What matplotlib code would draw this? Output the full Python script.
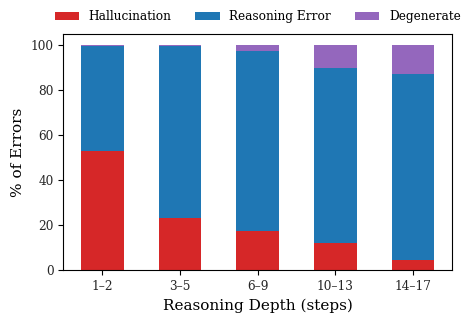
import numpy as np
import matplotlib.pyplot as plt

plt.rcParams['font.family'] = 'DejaVu Serif'

depths = ["1\u20132", "3\u20135", "6\u20139", "10\u201313", "14\u201317"]
hallucination = [52.9, 23.3, 17.3, 12.1, 4.6]
reasoning_error = [46.7, 76.3, 80.0, 77.8, 82.6]
degenerate = [0.4, 0.4, 2.7, 10.1, 12.8]

fig, ax = plt.subplots(figsize=(4.65, 3.19), dpi=100)
x = np.arange(len(depths))
h = np.array(hallucination)
r = np.array(reasoning_error)
d = np.array(degenerate)

ax.bar(x, h, width=0.55, color="#d62728", label="Hallucination")
ax.bar(x, r, width=0.55, bottom=h, color="#1f77b4", label="Reasoning Error")
ax.bar(x, d, width=0.55, bottom=h + r, color="#9467bd", label="Degenerate")

ax.set_xticks(x)
ax.set_xticklabels(depths)
ax.tick_params(labelsize=8.7, labelcolor="#262626")
ax.set_ylim(0, 105)
ax.set_xlabel("Reasoning Depth (steps)", fontsize=11)
ax.set_ylabel("% of Errors", fontsize=11)
ax.legend(loc="lower center", bbox_to_anchor=(0.5, 1.0), ncol=3, frameon=False,
          fontsize=8.7, handlelength=2.0, columnspacing=2.0)

fig.subplots_adjust(left=0.136, right=0.972, top=0.893, bottom=0.153)
fig.savefig("out.png", dpi=100)
